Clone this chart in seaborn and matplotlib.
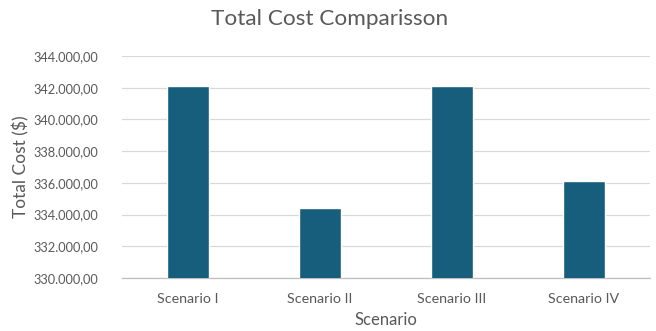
import matplotlib
matplotlib.use("Agg")
import matplotlib.pyplot as plt
from matplotlib.ticker import FuncFormatter, MultipleLocator
import seaborn as sns
import pandas as pd

scenarios = ["Scenario I", "Scenario II", "Scenario III", "Scenario IV"]
total_cost = [342100, 334420, 342100, 336100]

df = pd.DataFrame({"Scenario": scenarios, "Total Cost": total_cost})

sns.set_theme(style="white")
plt.rcParams["font.family"] = ["Lato", "DejaVu Sans"]

text_color = "#595959"
bar_color = "#165E7C"

fig = plt.figure(figsize=(6.56, 3.31), dpi=100)
ax = fig.add_axes([122 / 656, 1 - 278 / 331, (650 - 122) / 656, (278 - 56) / 331])

sns.barplot(data=df, x="Scenario", y="Total Cost", color=bar_color,
            saturation=1, width=0.32, ax=ax, zorder=3)

ax.set_ylim(330000, 344000)
ax.yaxis.set_major_locator(MultipleLocator(2000))


def eu_format(v, _pos):
    s = f"{v:,.2f}"
    return s.replace(",", "X").replace(".", ",").replace("X", ".")


ax.yaxis.set_major_formatter(FuncFormatter(eu_format))
ax.grid(axis="y", color="#D9D9D9", linewidth=0.9, zorder=0)
ax.grid(axis="x", visible=False)

for side in ["top", "right", "left"]:
    ax.spines[side].set_visible(False)
ax.spines["bottom"].set_color("#BFBFBF")
ax.spines["bottom"].set_linewidth(0.9)

ax.tick_params(axis="both", length=0, colors=text_color)
ax.tick_params(axis="y", pad=17, labelsize=9.2)
ax.tick_params(axis="x", pad=11, labelsize=10.3)

ax.set_xlabel("Scenario", color=text_color, fontsize=12, labelpad=5)
ax.set_ylabel("Total Cost ($)", color=text_color, fontsize=12.5, labelpad=3)

fig.suptitle("Total Cost Comparisson", color=text_color, fontsize=16.2,
             x=330 / 656, y=1 - 9 / 331, va="top")

fig.savefig("out.png", dpi=100, facecolor="white")
